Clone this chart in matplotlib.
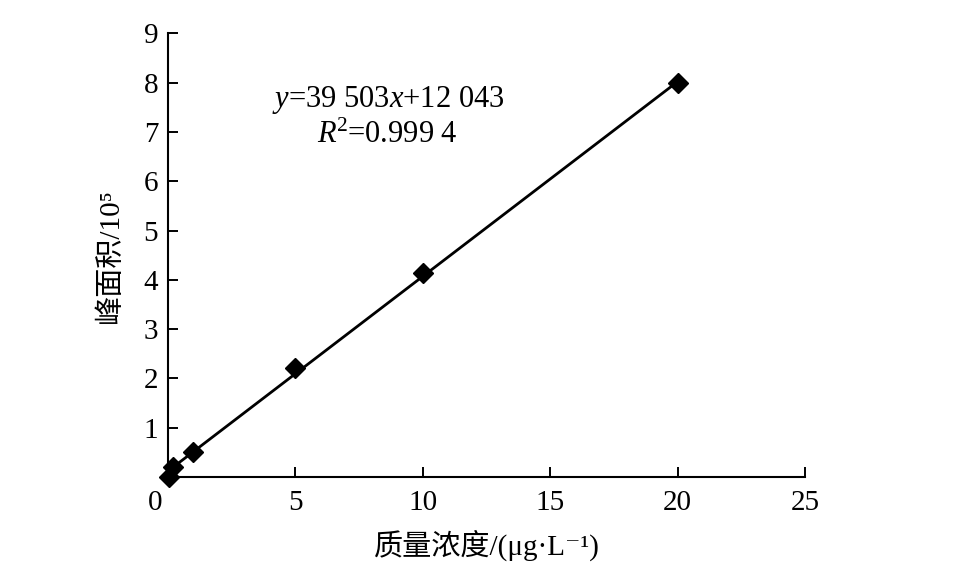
import matplotlib.pyplot as plt
import numpy as np
from matplotlib.transforms import ScaledTranslation

plt.rcParams['font.family'] = ['Liberation Serif', 'Noto Sans CJK SC', 'DejaVu Serif']
plt.rcParams['mathtext.fontset'] = 'custom'
plt.rcParams['mathtext.rm'] = 'Liberation Serif'
plt.rcParams['mathtext.it'] = 'Liberation Serif:italic'

# 质量浓度 (μg/L) 与 峰面积 (10^5)
conc = [0.02, 0.2, 1.0, 5.0, 10.0, 20.0]
area = [0.01, 0.2, 0.51, 2.21, 4.13, 8.0]
slope = 0.39503
intercept = 0.12043

fig = plt.figure(figsize=(9.59, 5.68), dpi=100)
ax = fig.add_axes([0.1752, 0.1602, 0.6642, 0.781])

xl = np.array([min(conc), max(conc)])
ax.plot(xl, slope * xl + intercept, color='black', lw=2.0, clip_on=False)
ax.plot(conc, area, linestyle='none', marker='D', ms=10, color='black', clip_on=False, zorder=3)

ax.set_xlim(0, 25)
ax.set_ylim(0, 9)
ax.set_xticks([0, 5, 10, 15, 20, 25])
ax.set_yticks([1, 2, 3, 4, 5, 6, 7, 8, 9])
ax.spines['top'].set_visible(False)
ax.spines['right'].set_visible(False)
for s in ('left', 'bottom'):
    ax.spines[s].set_linewidth(1.5)
ax.tick_params(direction='in', length=7, width=1.4, labelsize=21)
ax.tick_params(axis='x', pad=9)
ax.tick_params(axis='y', pad=7)

# 0 label sits left of the corner
lab0 = ax.get_xticklabels()[0]
lab0.set_transform(lab0.get_transform() + ScaledTranslation(-0.13, 0, fig.dpi_scale_trans))

ax.set_xlabel('质量浓度/(μg·L⁻¹)', fontsize=21, labelpad=10)
ax.set_ylabel('峰面积/10⁵', fontsize=21, labelpad=14)

ax.text(0.345, 0.85, r'$y$=39 503$x$+12 043', transform=ax.transAxes,
        ha='center', va='center', fontsize=22)
ax.text(0.345, 0.771, r'$R$$^2$=0.999 4', transform=ax.transAxes,
        ha='center', va='center', fontsize=22)

fig.savefig('out.png', dpi=100)
